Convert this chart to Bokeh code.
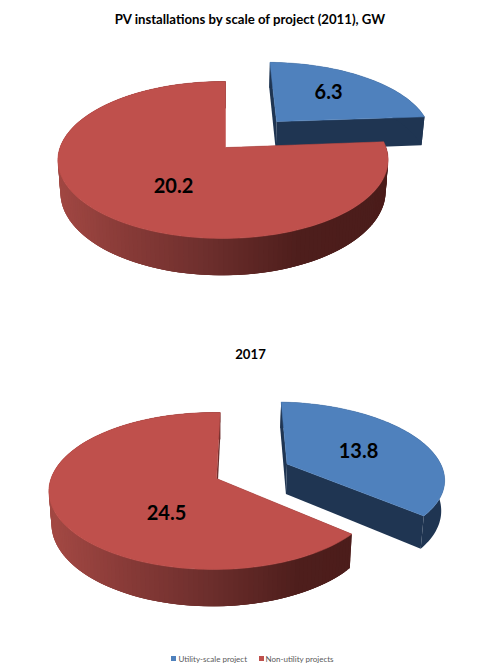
import numpy as np
from bokeh.plotting import figure
from bokeh.models import Range1d
from bokeh.core.properties import value
from bokeh.embed import file_html
from bokeh.resources import INLINE

# ---- data ----
series_names = ["Utility-scale project", "Non-utility projects"]
values_2011 = [6.3, 20.2]
values_2017 = [13.8, 24.5]
title_2011 = "PV installations by scale of project (2011), GW"
title_2017 = "2017"

# ---- style / layout ----
BLUE, RED, BLUE_SIDE = "#4f81bd", "#bf504c", "#1f3552"
FONT = "Lato"
KP, KU, RX, RY, DEPTH, CONV = 0.159, 0.015, 163.0, 76.5, 31.0, 0.015
EXPLODE = 0.49
STOPS_X = [55, 130, 200, 300, 400]
STOPS_C = [(162, 72, 67), (135, 58, 55), (112, 48, 46), (78, 30, 28), (74, 28, 26)]

p = figure(width=484, height=664, output_backend="svg", toolbar_location=None,
           x_range=Range1d(0, 484), y_range=Range1d(664, 0),
           min_border=0, outline_line_color=None, background_fill_color="white")
p.xaxis.visible = False
p.yaxis.visible = False
p.grid.visible = False


def project(ax, ay, u, v, z):
    d = 1 + KP * v + KU * u
    return ax + RX * u / d * (1 - CONV * z), ay - RY * v / d + DEPTH * z / d


def side_color(x):
    return "#%02x%02x%02x" % tuple(
        int(round(np.interp(x, STOPS_X, [c[i] for c in STOPS_C]))) for i in range(3))


def slice_geometry(start, sweep, offset):
    phi = np.radians(np.linspace(start, start + sweep, max(int(sweep / 1.5), 2) + 1))
    mid = np.radians(start + sweep / 2)
    u0, v0 = offset * np.sin(mid), offset * np.cos(mid)
    return u0, v0, u0 + np.sin(phi), v0 + np.cos(phi)


def draw_walls(ax, ay, start, sweep, offset, color):
    u0, v0, us, vs = slice_geometry(start, sweep, offset)
    # straight cut faces
    for ue, ve in ((us[0], vs[0]), (us[-1], vs[-1])):
        xa, ya = project(ax, ay, u0, v0, 0)
        xb, yb = project(ax, ay, ue, ve, 0)
        xc, yc = project(ax, ay, ue, ve, 1)
        xd, yd = project(ax, ay, u0, v0, 1)
        fill = color or side_color((xa + xb) / 2)
        p.patch([xa, xb, xc, xd], [ya, yb, yc, yd], fill_color=fill, line_color=None)
    x_top, y_top = project(ax, ay, us, vs, 0)
    x_bot, y_bot = project(ax, ay, us, vs, 1)
    if color:
        p.patch(np.r_[x_top, x_bot[::-1]], np.r_[y_top, y_bot[::-1]],
                fill_color=color, line_color=None)
        return
    # shaded rim: overlapping strips painted in order, each covering the next seam
    xs, ys, cs = [], [], []
    for i in range(len(us) - 1):
        j = min(i + 3, len(us) - 1)
        xs.append([x_top[i], x_top[j], x_bot[j], x_bot[i]])
        ys.append([y_top[i], y_top[j], y_bot[j], y_bot[i]])
        cs.append(side_color(x_top[i]))
    p.patches(xs, ys, fill_color=cs, line_color=None)


def draw_top(ax, ay, start, sweep, offset, color):
    u0, v0, us, vs = slice_geometry(start, sweep, offset)
    x, y = project(ax, ay, np.r_[u0, us], np.r_[v0, vs], 0)
    p.patch(x, y, fill_color=color, line_color=color, line_width=0.5)


def draw_pie(vals, ax, ay, rot):
    blue_sweep = 360 * vals[0] / sum(vals)
    red_sweep = 360 * vals[1] / sum(vals)
    draw_walls(ax, ay, rot, blue_sweep, EXPLODE, BLUE_SIDE)
    draw_top(ax, ay, rot, blue_sweep, EXPLODE, BLUE)
    draw_walls(ax, ay, rot + blue_sweep, red_sweep, 0, None)
    draw_top(ax, ay, rot + blue_sweep, red_sweep, 0, RED)


def label(x, y, txt, size, color="#000000", align="center", weight="bold"):
    p.text([x], [y], text=[txt], text_font=value(FONT), text_font_size=size,
           text_font_style=weight, text_color=color, text_align=align, text_baseline="middle")


draw_pie(values_2011, 225, 147, 0)
draw_pie(values_2017, 216, 478, 1.5)

label(250, 18, title_2011, "13.2px")
label(250, 353, title_2017, "13.2px")
label(328, 91, str(values_2011[0]), "20px")
label(173, 185, str(values_2011[1]), "20px")
label(358, 450, str(values_2017[0]), "20px")
label(166, 512, str(values_2017[1]), "20px")

p.scatter([173], [658], marker="square", size=5, fill_color=BLUE, line_color=None)
p.scatter([261], [658], marker="square", size=5, fill_color=RED, line_color=None)
label(178, 658, series_names[0], "8px", color="#595959", align="left", weight="normal")
label(265, 658, series_names[1], "8px", color="#595959", align="left", weight="normal")

open("out.html", "w").write(file_html(p, INLINE))
